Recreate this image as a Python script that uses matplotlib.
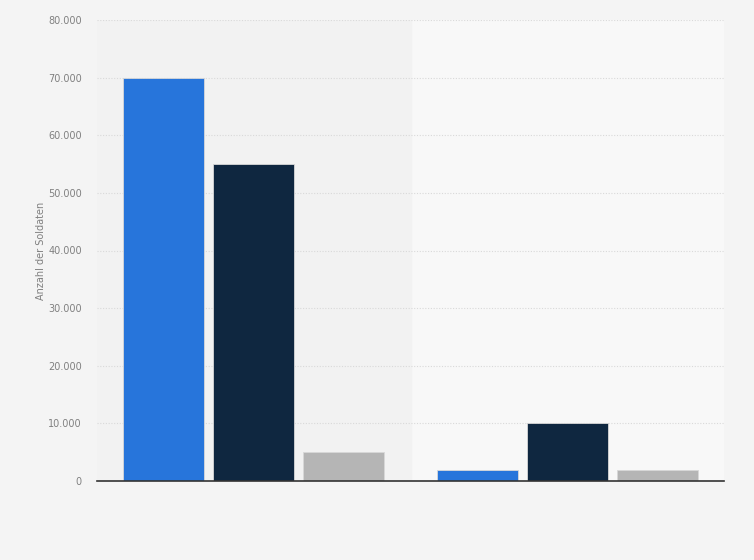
import matplotlib.pyplot as plt
import numpy as np
from matplotlib.ticker import FuncFormatter

# data
categories = ['Gruppe 1', 'Gruppe 2']
series_names = ['Serie A', 'Serie B', 'Serie C']
serie_a = [70000, 1900]
serie_b = [55000, 10000]
serie_c = [5000, 1900]

colors = ['#2775db', '#0f2740', '#b5b5b5']

fig = plt.figure(figsize=(7.54, 5.6), dpi=100)
fig.patch.set_facecolor('#f4f4f4')
ax = fig.add_axes([97/754, 1 - 481/560, (724 - 97)/754, (481 - 20)/560])
ax.set_facecolor('#f8f8f8')

x = np.arange(len(categories))
width = 0.258
step = width + 9/313.5

# alternating band behind first category
ax.axvspan(-0.5, 0.5, color='#f2f2f2', zorder=0)

for i, (vals, name) in enumerate(zip([serie_a, serie_b, serie_c], series_names)):
    ax.bar(x + (i - 1) * step, vals, width, color=colors[i], label=name,
           edgecolor='#d8d8d8', linewidth=0.6, zorder=3)

ax.set_xlim(-0.5, len(categories) - 0.5)
ax.set_ylim(0, 80000)
ax.set_yticks(np.arange(0, 80001, 10000))
ax.yaxis.set_major_formatter(FuncFormatter(lambda v, p: f'{int(v):,}'.replace(',', '.')))
ax.grid(axis='y', color='#d9d9d9', linestyle=(0, (1, 1.5)), linewidth=0.8, zorder=1)
ax.set_xticks([])
for s in ['top', 'right', 'left']:
    ax.spines[s].set_visible(False)
ax.spines['bottom'].set_color('#333333')
ax.spines['bottom'].set_linewidth(1.2)
ax.spines['bottom'].set_zorder(4)
ax.tick_params(axis='y', length=0, pad=11, labelsize=7, labelcolor='#808080')
ax.set_ylabel('Anzahl der Soldaten', fontsize=7, color='#808080', labelpad=1.5)

fig.savefig('out.png', dpi=100, facecolor=fig.get_facecolor())
